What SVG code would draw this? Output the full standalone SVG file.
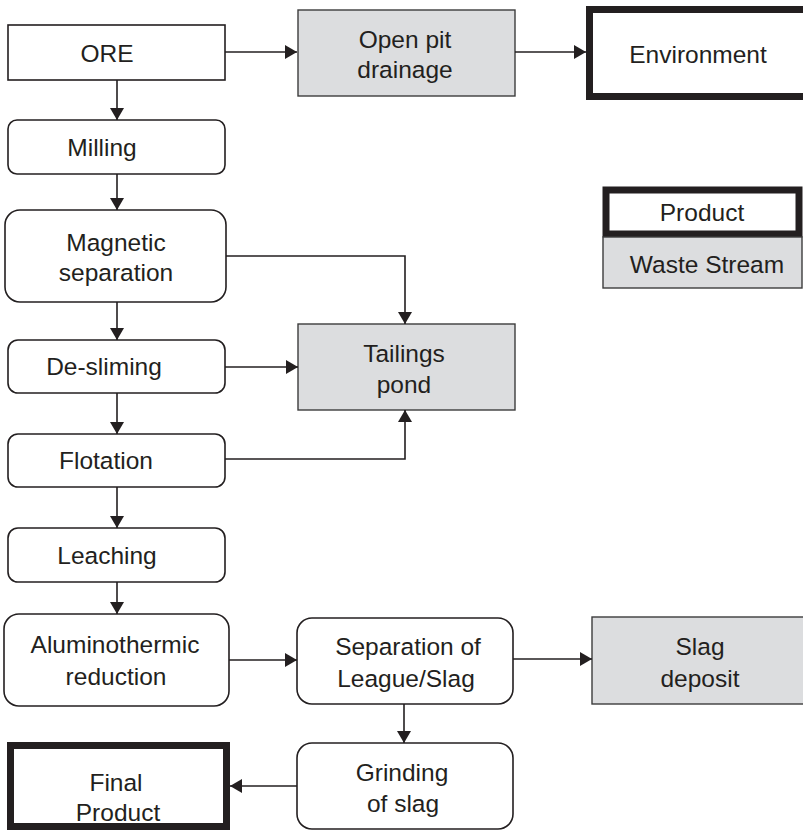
<svg xmlns="http://www.w3.org/2000/svg" width="803" height="831" viewBox="0 0 803 831">
<defs>
<marker id="ah" markerUnits="userSpaceOnUse" markerWidth="13" markerHeight="14" refX="12" refY="7" orient="auto">
<path d="M0,0 L12,7 L0,14 z" fill="#231f20"/>
</marker>
<style>
.t{font-family:"Liberation Sans",Arial,sans-serif;font-size:24.5px;fill:#231f20;text-anchor:middle}
.p{fill:#fff;stroke:#231f20;stroke-width:1.6}
.w{fill:#dcdddf;stroke:#3c3c3c;stroke-width:1.4}
.b{fill:#fff;stroke:#231f20;stroke-width:7}
.c{fill:none;stroke:#231f20;stroke-width:1.6;marker-end:url(#ah)}
</style>
</defs>
<rect width="803" height="831" fill="#fff"/>
<g id="ore"><rect class="p" x="8" y="25" width="217" height="55"/><text class="t" x="107" y="62">ORE</text></g>
<g id="openpit"><rect class="w" x="298" y="10" width="217" height="86"/><text class="t" x="405" y="48">Open pit</text><text class="t" x="405" y="78">drainage</text></g>
<g id="environment"><rect class="b" x="589.5" y="9.5" width="217" height="87"/><text class="t" x="698" y="63">Environment</text></g>
<g id="milling"><rect class="p" x="8" y="120" width="217" height="54" rx="9"/><text class="t" x="102" y="156">Milling</text></g>
<g id="magnetic"><rect class="p" x="5" y="210" width="221" height="92" rx="15"/><text class="t" x="116" y="251">Magnetic</text><text class="t" x="116" y="281">separation</text></g>
<g id="legend-product"><rect class="b" x="606" y="190" width="193" height="44"/><text class="t" x="702" y="221">Product</text></g>
<g id="legend-waste"><rect class="w" x="603" y="237" width="199" height="51"/><text class="t" x="707" y="273">Waste Stream</text></g>
<g id="desliming"><rect class="p" x="8" y="340" width="217" height="53" rx="10"/><text class="t" x="104" y="375">De-sliming</text></g>
<g id="tailings"><rect class="w" x="298" y="324" width="217" height="86"/><text class="t" x="404" y="362">Tailings</text><text class="t" x="404" y="393">pond</text></g>
<g id="flotation"><rect class="p" x="8" y="434" width="217" height="53" rx="10"/><text class="t" x="106" y="469">Flotation</text></g>
<g id="leaching"><rect class="p" x="8" y="528" width="217" height="54" rx="10"/><text class="t" x="107" y="564">Leaching</text></g>
<g id="alumino"><rect class="p" x="4" y="614" width="225" height="92" rx="15"/><text class="t" x="115" y="653">Aluminothermic</text><text class="t" x="116" y="685">reduction</text></g>
<g id="separation"><rect class="p" x="297" y="618" width="216" height="86" rx="15"/><text class="t" x="408" y="655">Separation of</text><text class="t" x="406" y="687">League/Slag</text></g>
<g id="slag"><rect class="w" x="592" y="617" width="220" height="87"/><text class="t" x="700" y="655">Slag</text><text class="t" x="700" y="687">deposit</text></g>
<g id="grinding"><rect class="p" x="297" y="743" width="216" height="86" rx="15"/><text class="t" x="402" y="781">Grinding</text><text class="t" x="403" y="812">of slag</text></g>
<g id="final"><rect class="b" x="10.5" y="745.5" width="216" height="81"/><text class="t" x="116" y="791">Final</text><text class="t" x="118" y="821">Product</text></g>
<g id="connectors">
<path class="c" d="M225,52 H297"/>
<path class="c" d="M515,52 H586"/>
<path class="c" d="M117,80 V120"/>
<path class="c" d="M117,174 V210"/>
<path class="c" d="M226,256 H405 V324"/>
<path class="c" d="M117,302 V340"/>
<path class="c" d="M225,367 H298"/>
<path class="c" d="M117,393 V434"/>
<path class="c" d="M225,459 H405 V410"/>
<path class="c" d="M117,487 V528"/>
<path class="c" d="M117,582 V614"/>
<path class="c" d="M229,660 H297"/>
<path class="c" d="M513,659 H592"/>
<path class="c" d="M404,704 V743"/>
<path class="c" d="M297,786 H230"/>
</g>
</svg>
